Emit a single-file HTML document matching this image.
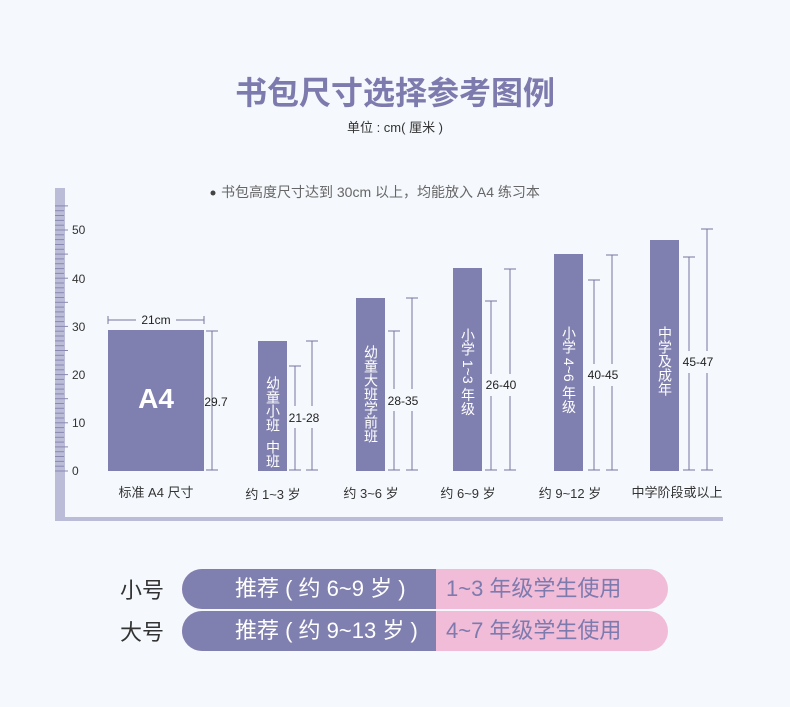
<!DOCTYPE html>
<html><head><meta charset="utf-8"><style>
body{margin:0;background:#f5f8fc;}
#c{position:relative;width:790px;height:707px;overflow:hidden;background:#f5f8fc;font-family:"Liberation Sans","Noto Sans CJK SC",sans-serif;}
.v{position:absolute;writing-mode:vertical-rl;color:#fff;font-size:14px;line-height:16px;letter-spacing:0px;font-family:"Liberation Sans","Noto Sans CJK SC",sans-serif;}
.pill{position:absolute;left:182px;width:486px;height:40px;border-radius:20px;overflow:hidden;background:#f0bcd8;}
.pill .l{position:absolute;left:0;top:0;width:254px;height:40px;background:#8080b0;color:#fff;font-size:22px;line-height:40px;padding-left:53px;box-sizing:border-box;white-space:nowrap;}
.pill .r{position:absolute;left:264px;top:0;height:40px;color:#7d7aae;font-size:22px;line-height:40px;white-space:nowrap;}
</style></head><body><div id="c">
<svg width="790" height="707" style="position:absolute;left:0;top:0" font-family="Liberation Sans, Noto Sans CJK SC, sans-serif">
<rect x="55" y="188" width="10" height="333" fill="#babcd8"/>
<rect x="55" y="517" width="668" height="4" fill="#babcd8"/>
<g id="tk" stroke="#8a88b0" stroke-width="1"></g>
<g font-size="12" fill="#333">
<text x="72" y="234">50</text><text x="72" y="283">40</text><text x="72" y="331">30</text><text x="72" y="379">20</text><text x="72" y="427">10</text><text x="72" y="475">0</text>
</g>
<g fill="#8080b0">
<rect x="108" y="330" width="96" height="141"/>
<rect x="258" y="341" width="29" height="130"/>
<rect x="356" y="298" width="29" height="173"/>
<rect x="453" y="268" width="29" height="203"/>
<rect x="554" y="254" width="29" height="217"/>
<rect x="650" y="240" width="29" height="231"/>
</g>
<g stroke="#77759f" stroke-width="1" fill="none">
<path d="M108 316v8M108 320h28M176 320h28M204 316v8"/>
<path d="M206 331h12M212 331v139M206 470h12"/>
<path d="M289 366h12M295 366v104M289 470h12"/>
<path d="M306 341h12M312 341v129M306 470h12"/>
<path d="M388 331h12M394 331v139M388 470h12"/>
<path d="M406 298h12M412 298v172M406 470h12"/>
<path d="M485 301h12M491 301v169M485 470h12"/>
<path d="M504 269h12M510 269v201M504 470h12"/>
<path d="M588 280h12M594 280v190M588 470h12"/>
<path d="M606 255h12M612 255v215M606 470h12"/>
<path d="M683 257h12M689 257v213M683 470h12"/>
<path d="M701 229h12M707 229v241M701 470h12"/>
</g>
<g fill="#f5f8fc">
<rect x="290" y="406" width="28" height="22"/>
<rect x="388" y="389" width="32" height="22"/>
<rect x="484" y="374" width="34" height="22"/>
<rect x="587" y="364" width="34" height="22"/>
<rect x="682" y="351" width="34" height="22"/>
</g>
<g font-size="12" fill="#222" text-anchor="middle">
<text x="156" y="324">21cm</text>
<text x="216" y="406">29.7</text>
<text x="304" y="422">21-28</text>
<text x="403" y="405">28-35</text>
<text x="501" y="389">26-40</text>
<text x="603" y="379">40-45</text>
<text x="698" y="366">45-47</text>
</g>
<text x="156" y="408" font-size="28" font-weight="bold" fill="#fff" text-anchor="middle">A4</text>
<g font-size="13" fill="#333" text-anchor="middle">
<text x="156" y="497">标准 A4 尺寸</text>
<text x="273" y="499">约 1~3 岁</text>
<text x="371" y="498">约 3~6 岁</text>
<text x="468" y="498">约 6~9 岁</text>
<text x="570" y="498">约 9~12 岁</text>
<text x="677" y="497">中学阶段或以上</text>
</g>
<text x="395" y="104" font-size="32" font-weight="bold" fill="#7d7aae" text-anchor="middle">书包尺寸选择参考图例</text>
<text x="395" y="132" font-size="13" fill="#333" text-anchor="middle">单位 : cm( 厘米 )</text>
<circle cx="213" cy="193" r="2.5" fill="#444"/>
<text x="221" y="197" font-size="14" fill="#666">书包高度尺寸达到 30cm 以上，均能放入 A4 练习本</text>
<text x="120" y="598" font-size="22" fill="#333">小号</text>
<text x="120" y="640" font-size="22" fill="#333">大号</text>
</svg>
<div class="v" style="left:265px;top:376px">幼童小班</div>
<div class="v" style="left:265px;top:440px">中班</div>
<div class="v" style="left:363px;top:345px">幼童大班学前班</div>
<div class="v" style="left:460px;top:328px">小学 1~3 年级</div>
<div class="v" style="left:561px;top:326px">小学 4~6 年级</div>
<div class="v" style="left:657px;top:326px">中学及成年</div>
<div class="pill" style="top:569px"><div class="l">推荐 ( 约 6~9 岁 )</div><div class="r">1~3 年级学生使用</div></div>
<div class="pill" style="top:611px"><div class="l">推荐 ( 约 9~13 岁 )</div><div class="r">4~7 年级学生使用</div></div>
<script>
var g=document.getElementById('tk'),s='';
for(var i=0;i<=55;i++){var y=471-i*4.82;if(y<190)break;var L=(i%5==0)?13:9;s+='<line x1="55" x2="'+(55+L)+'" y1="'+y.toFixed(1)+'" y2="'+y.toFixed(1)+'"/>';}
g.innerHTML=s;
</script>
</div></body></html>
